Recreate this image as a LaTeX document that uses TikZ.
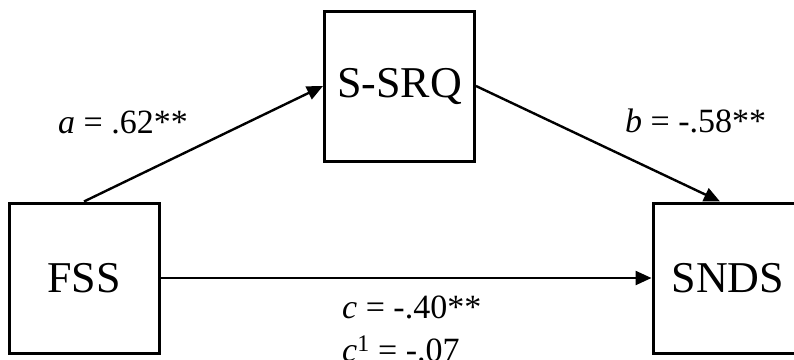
\documentclass[tikz,border=0pt]{standalone}
\usepackage{fontspec}
\setmainfont{Liberation Serif}
\usetikzlibrary{arrows.meta}
\tikzset{
  varbox/.style={draw, line width=3pt, minimum width=150pt, minimum height=150pt, inner sep=0pt, font=\fontsize{44}{52}\selectfont},
  pathlabel/.style={anchor=base west, inner sep=0pt, font=\fontsize{34}{40}\selectfont},
  effect/.style={line width=2.4pt, -{Triangle[length=16pt,width=14pt]}}
}
\begin{document}
\begin{tikzpicture}[x=1pt,y=-1pt]
\useasboundingbox (0,0) rectangle (794,359);
\clip (0,0) rectangle (794,359);
\fill[white] (0,0) rectangle (794,359);
\node[varbox] (fss) at (84,278) {FSS};
\node[varbox] (ssrq) at (399.5,86) {S-SRQ};
\node[varbox] (snds) at (728,278) {SNDS};
\draw[effect] (fss.north) -- (ssrq.west);
\draw[effect] (ssrq.east) -- ([xshift=-8pt]snds.north);
\draw[effect] (fss.east) -- (snds.west);
\node[pathlabel] (la) at (58,133) {\textit{a} = .62**};
\node[pathlabel] (lb) at (625,132) {\textit{b} = -.58**};
\node[pathlabel] (lc) at (342,318) {\textit{c} = -.40**};
\node[pathlabel] (lc1) at (342,361) {\textit{c}\textsuperscript{1} = -.07};
\end{tikzpicture}
\end{document}
